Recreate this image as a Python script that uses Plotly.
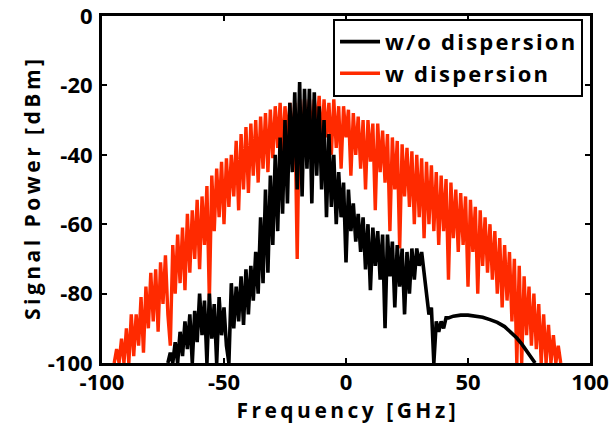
import plotly.graph_objects as go

# ---- data ----
red_x0 = -95   # first frequency of "w dispersion" trace, 1 GHz step
red_y = [
    -100, -96, -100, -93, -100, -90, -100, -86, -98, -86,
    -95, -81, -97, -78, -90, -74, -88, -73, -91, -71,
    -83, -69, -86, -95, -66, -80, -63, -77, -61, -79,
    -57, -74, -56, -70, -53, -73, -52, -66, -49, -82,
    -46, -62, -44, -58, -42, -60, -41, -55, -40, -52,
    -36, -56, -34, -50, -32, -51, -31, -46, -30, -48,
    -29, -44, -28, -45, -27, -41, -26, -38, -25, -40,
    -26, -36, -25, -38, -25, -70, -24, -37, -24, -34,
    -24, -36, -24, -33, -23, -38, -24, -35, -25, -40,
    -24, -38, -26, -44, -26, -35, -27, -46, -28, -40,
    -29, -44, -30, -50, -30, -42, -31, -56, -31, -45,
    -33, -48, -34, -62, -35, -50, -36, -67, -37, -52,
    -38, -55, -39, -60, -40, -58, -41, -64, -42, -60,
    -43, -62, -45, -66, -46, -62, -47, -76, -48, -64,
    -50, -68, -51, -66, -52, -78, -53, -68, -55, -80,
    -56, -72, -58, -74, -60, -76, -62, -80, -64, -84,
    -66, -82, -68, -88, -70, -100, -72, -100, -75, -92,
    -78, -95, -80, -96, -83, -100, -86, -100, -89, -100,
    -92, -100, -95, -100,
]

black_x0 = -73  # first frequency of "w/o dispersion" noisy part, 1 GHz step
black_y = [
    -100, -97, -100, -94, -100, -91, -98, -88, -96, -86,
    -100, -85, -94, -80, -92, -82, -100, -80, -93, -83,
    -100, -81, -92, -84, -95, -100, -77, -90, -78, -88,
    -75, -89, -73, -86, -72, -82, -68, -80, -58, -77,
    -50, -74, -46, -66, -40, -62, -35, -57, -30, -54,
    -25, -45, -22, -50, -19, -52, -21, -44, -21, -54,
    -22, -46, -26, -50, -30, -58, -34, -55, -40, -60,
    -45, -58, -48, -71, -50, -62, -54, -65, -57, -68,
    -58, -73, -60, -79, -61, -72, -62, -76, -63, -90,
    -63, -75, -65, -84, -66, -78, -67, -86, -68, -80,
    -67, -76, -67, -72, -68, -74, -78, -86, -84, -100,
    -88, -91, -88, -90, -87, -87,
]
# smooth tail of the "w/o dispersion" trace
tail_x = [44, 47, 50, 53, 56, 59, 62, 65, 68, 70, 72, 74, 76, 77.5]
tail_y = [-86.5, -86.2, -86.2, -86.4, -86.8, -87.5, -88.3, -89.5,
          -91.3, -92.8, -94.5, -96.5, -98.5, -100]

names = ["w/o dispersion", "w dispersion"]
colors = ["#000000", "#ff2a00"]
x_ticks = [-100, -50, 0, 50, 100]
y_ticks = [-100, -80, -60, -40, -20, 0]
x_title = "Frequency [GHz]"
y_title = "Signal Power [dBm]"

TS = "\u2009"  # thin space: wide letter spacing of the axis titles
HS = "\u200a"  # hair space: letter spacing of the legend entries


def spaced(s, sep):
    return sep.join(s)


red_x = [red_x0 + i for i in range(len(red_y))]
blk_x = [black_x0 + i for i in range(len(black_y))] + tail_x
blk_y = black_y + tail_y

fig = go.Figure()
fig.add_trace(go.Scatter(x=red_x, y=red_y, mode="lines", name=spaced(names[1], HS),
                         line=dict(color=colors[1], width=3.4), legendrank=2))
fig.add_trace(go.Scatter(x=blk_x, y=blk_y, mode="lines", name=spaced(names[0], HS),
                         line=dict(color=colors[0], width=3.6), legendrank=1))

font = "Open Sans, Liberation Sans, Arial, sans-serif"
axis_common = dict(
    showline=True, linewidth=3, linecolor="black", mirror="ticks",
    ticks="inside", ticklen=5, tickwidth=2, tickcolor="black",
    showgrid=False, zeroline=False, automargin=False,
    ticklabeloverflow="allow",
    tickfont=dict(family=font, size=22, color="black", weight="bold"),
)
fig.update_xaxes(range=[-100, 100], tickvals=x_ticks,
                 ticktext=[str(v) for v in x_ticks], ticklabelstandoff=-2,
                 title=dict(text=spaced(x_title, TS), standoff=0,
                            font=dict(family=font, size=21, color="black", weight="bold")),
                 **axis_common)
fig.update_yaxes(range=[-100, 0], tickvals=y_ticks,
                 ticktext=[str(v) for v in y_ticks], ticklabelstandoff=2,
                 title=dict(text=spaced(y_title, TS), standoff=2,
                            font=dict(family=font, size=21, color="black", weight="bold")),
                 **axis_common)

fig.update_layout(
    width=612, height=426,
    margin=dict(l=102, r=22, t=16, b=63),
    paper_bgcolor="white", plot_bgcolor="white",
    showlegend=True,
    legend=dict(x=0.9857, y=0.992, xanchor="right", yanchor="top",
                bgcolor="white", bordercolor="black", borderwidth=2,
                font=dict(family=font, size=22, color="black", weight="bold"),
                itemwidth=40, tracegroupgap=0),
)

fig.write_html("out.html")
